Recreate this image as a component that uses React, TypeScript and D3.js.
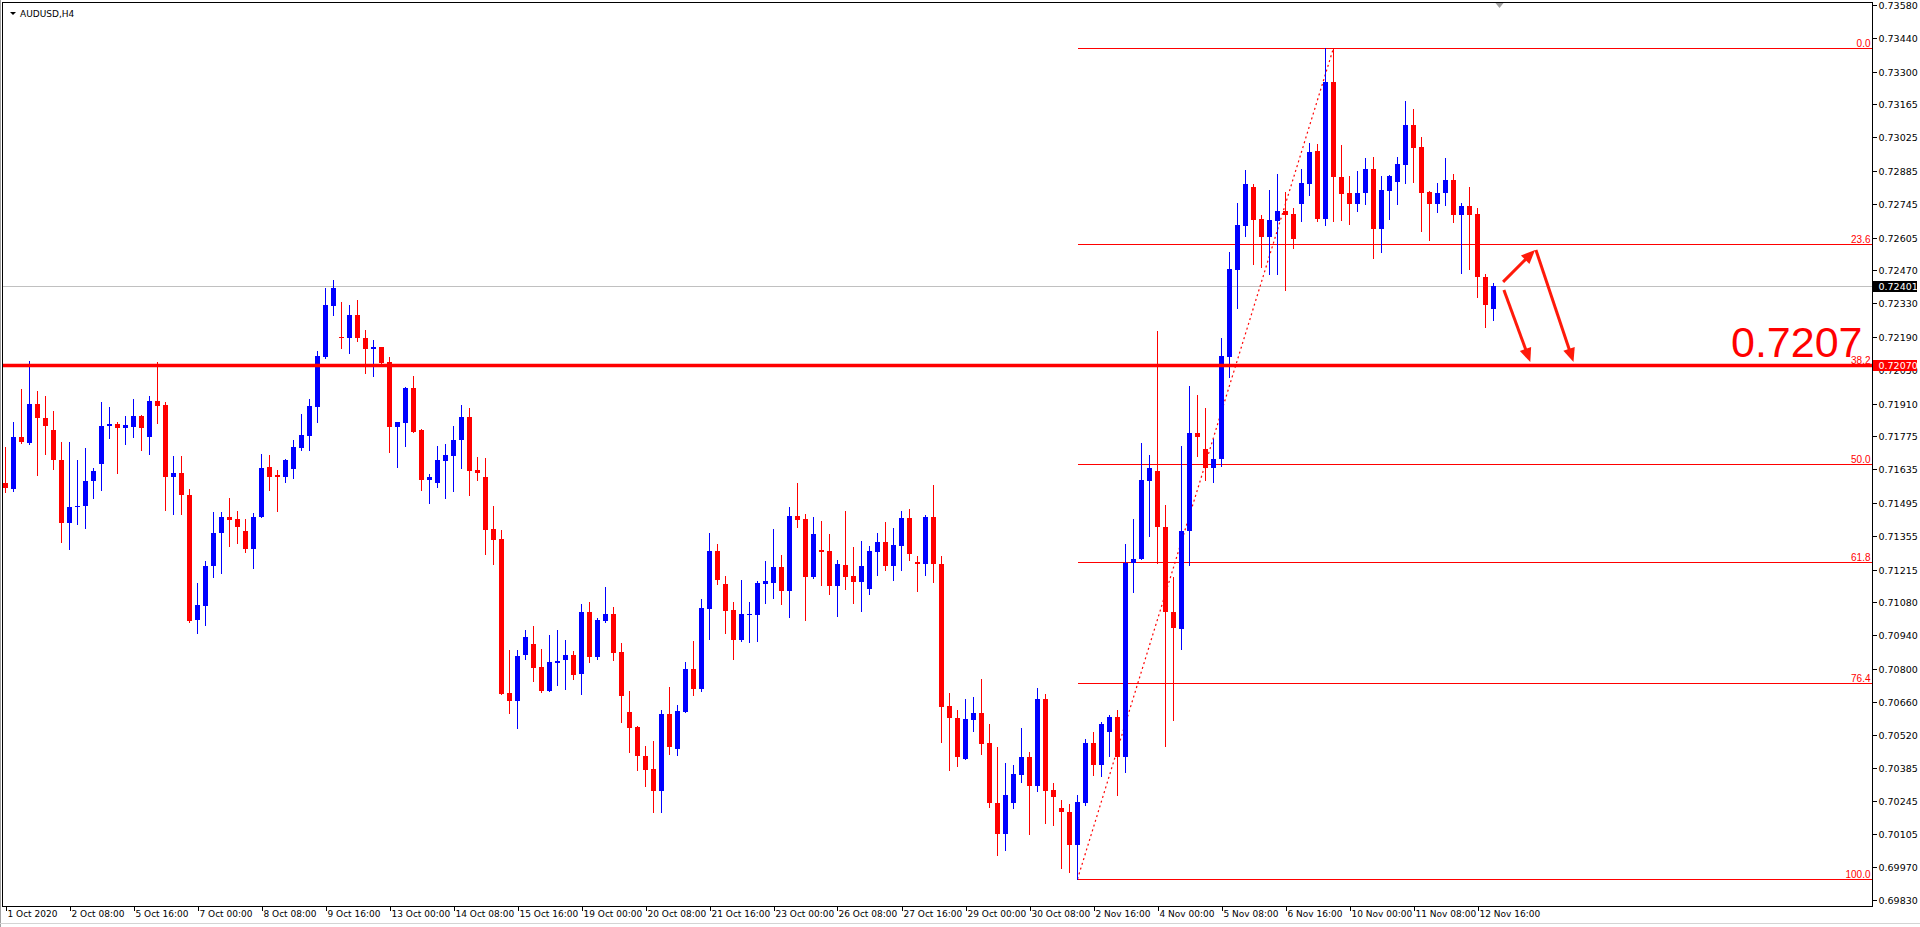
import React from "react";
import * as d3 from "d3";

const W = 1920;
const H = 927;

// OHLC per H4 bar (bar 0 = 1 Oct 2020 00:00)
const opens = [
  0.71577, 0.71554, 0.71771, 0.71746, 0.71909, 0.7185, 0.718, 0.71674, 0.71408, 0.71475,
  0.71479, 0.71584, 0.71659, 0.71818, 0.71825, 0.71806, 0.71814, 0.71859, 0.71772, 0.71922,
  0.71905, 0.71601, 0.7162, 0.71528, 0.71002, 0.71064, 0.71228, 0.71366, 0.71435, 0.71427,
  0.71377, 0.71303, 0.71437, 0.71645, 0.71611, 0.71604, 0.71638, 0.71722, 0.71776, 0.71897,
  0.72105, 0.7232, 0.72189, 0.72186, 0.72281, 0.72185, 0.7214, 0.72147, 0.72084, 0.7181,
  0.7183, 0.71976, 0.71798, 0.71592, 0.71579, 0.71671, 0.71692, 0.71759, 0.71854, 0.71632,
  0.71603, 0.71385, 0.71343, 0.70698, 0.70666, 0.70855, 0.70903, 0.70807, 0.70704, 0.70825,
  0.70834, 0.70857, 0.70779, 0.71037, 0.7085, 0.71001, 0.71029, 0.7087, 0.70619, 0.70556,
  0.70435, 0.7038, 0.70285, 0.7061, 0.70465, 0.7062, 0.70799, 0.70716, 0.71051, 0.71293,
  0.71155, 0.71046, 0.70921, 0.71025, 0.71026, 0.71156, 0.7116, 0.71226, 0.71127, 0.71439,
  0.71427, 0.71185, 0.71297, 0.71293, 0.71148, 0.71234, 0.71188, 0.71164, 0.71135, 0.7129,
  0.71331, 0.71231, 0.71315, 0.71431, 0.71247, 0.71236, 0.71435, 0.71238, 0.70644, 0.70593,
  0.70423, 0.70586, 0.70614, 0.70489, 0.70237, 0.70109, 0.70237, 0.70356, 0.70429, 0.7031,
  0.70672, 0.70291, 0.70215, 0.70201, 0.70062, 0.70237, 0.70487, 0.70397, 0.70536, 0.70597,
  0.70431, 0.71241, 0.71261, 0.71587, 0.71628, 0.71392, 0.71037, 0.70967, 0.71378, 0.71787,
  0.7172, 0.71642, 0.7168, 0.72107, 0.72471, 0.72656, 0.72818, 0.72684, 0.72606, 0.72673,
  0.72717, 0.72705, 0.72748, 0.72832, 0.72968, 0.72685, 0.73258, 0.72861, 0.72793, 0.72748,
  0.72794, 0.72893, 0.72643, 0.72802, 0.7284, 0.72911, 0.73077, 0.72985, 0.72797, 0.72748,
  0.72794, 0.72847, 0.72702, 0.72738, 0.72705, 0.72441, 0.72308,
];
const highs = [
  0.7173, 0.71834, 0.7197, 0.72089, 0.71963, 0.71942, 0.7188, 0.7175, 0.7175, 0.71674,
  0.71725, 0.71641, 0.71917, 0.71896, 0.71834, 0.71859, 0.7193, 0.71863, 0.71942, 0.72085,
  0.71917, 0.71691, 0.71691, 0.71553, 0.71159, 0.71252, 0.71457, 0.71456, 0.71515, 0.7146,
  0.71427, 0.71452, 0.71699, 0.71695, 0.71632, 0.71678, 0.71758, 0.71867, 0.7193, 0.72131,
  0.72394, 0.72428, 0.72336, 0.72323, 0.72344, 0.72219, 0.72177, 0.72147, 0.72105, 0.71833,
  0.71981, 0.72026, 0.71802, 0.71615, 0.71733, 0.71741, 0.71816, 0.71904, 0.71892, 0.71685,
  0.71682, 0.71481, 0.71381, 0.70878, 0.70878, 0.70962, 0.70979, 0.70882, 0.70941, 0.70962,
  0.7092, 0.70874, 0.71071, 0.71079, 0.71012, 0.71142, 0.71058, 0.70908, 0.70707, 0.7056,
  0.70476, 0.70497, 0.70627, 0.70723, 0.70648, 0.70828, 0.70916, 0.71092, 0.71368, 0.71322,
  0.71188, 0.71079, 0.71171, 0.71079, 0.71167, 0.71251, 0.71385, 0.71276, 0.71477, 0.71578,
  0.71448, 0.71435, 0.71418, 0.71364, 0.71255, 0.7146, 0.7131, 0.71335, 0.71314, 0.71368,
  0.71414, 0.71389, 0.7146, 0.71469, 0.71272, 0.71444, 0.71569, 0.71272, 0.70698, 0.70627,
  0.70673, 0.70681, 0.70757, 0.70568, 0.70473, 0.70405, 0.70397, 0.70553, 0.70452, 0.70719,
  0.70693, 0.7032, 0.7025, 0.70233, 0.70269, 0.70507, 0.70534, 0.70576, 0.70604, 0.70626,
  0.71322, 0.71427, 0.71746, 0.71695, 0.72215, 0.71485, 0.71183, 0.71732, 0.71983, 0.71947,
  0.71892, 0.7176, 0.72184, 0.72546, 0.72751, 0.72889, 0.7283, 0.727, 0.72805, 0.72872,
  0.72797, 0.7273, 0.72893, 0.73002, 0.72998, 0.734, 0.734, 0.72994, 0.72864, 0.72885,
  0.72939, 0.72943, 0.72864, 0.72868, 0.72943, 0.73178, 0.73144, 0.73027, 0.72801, 0.72834,
  0.72939, 0.72872, 0.72751, 0.72818, 0.7273, 0.72453, 0.72416,
];
const lows = [
  0.71538, 0.71546, 0.71747, 0.71741, 0.71609, 0.71701, 0.71638, 0.71332, 0.71303, 0.71404,
  0.71387, 0.71513, 0.7155, 0.71768, 0.71621, 0.71739, 0.71771, 0.71714, 0.71697, 0.71827,
  0.71466, 0.71446, 0.71446, 0.70997, 0.70947, 0.70981, 0.71182, 0.71202, 0.71315, 0.71324,
  0.7129, 0.71223, 0.71433, 0.7155, 0.71462, 0.71583, 0.716, 0.71717, 0.71717, 0.71835,
  0.72101, 0.72283, 0.72145, 0.72124, 0.72174, 0.7204, 0.72027, 0.7208, 0.71709, 0.71646,
  0.71734, 0.71793, 0.71548, 0.71495, 0.71562, 0.71516, 0.71546, 0.71642, 0.71529, 0.71592,
  0.71278, 0.71236, 0.70695, 0.70612, 0.70553, 0.70842, 0.7075, 0.707, 0.70704, 0.70733,
  0.70716, 0.70758, 0.70695, 0.70829, 0.70838, 0.70997, 0.70834, 0.70578, 0.70452, 0.70373,
  0.70306, 0.70201, 0.70201, 0.7044, 0.70436, 0.70616, 0.70691, 0.70708, 0.70922, 0.71156,
  0.70947, 0.70842, 0.70917, 0.70913, 0.70917, 0.71076, 0.71097, 0.71072, 0.71014, 0.71395,
  0.71005, 0.71181, 0.71152, 0.71114, 0.71022, 0.71135, 0.71076, 0.71043, 0.71114, 0.71194,
  0.71215, 0.71173, 0.71215, 0.71256, 0.71127, 0.71194, 0.71164, 0.70494, 0.70373, 0.7039,
  0.70423, 0.7054, 0.70444, 0.70222, 0.70017, 0.70038, 0.70215, 0.70324, 0.70109, 0.70288,
  0.70151, 0.70146, 0.69963, 0.69949, 0.69918, 0.7023, 0.70353, 0.70352, 0.70435, 0.70272,
  0.70368, 0.71122, 0.71261, 0.71357, 0.71243, 0.70477, 0.70586, 0.70883, 0.71235, 0.71692,
  0.71592, 0.7158, 0.7165, 0.72023, 0.72312, 0.72614, 0.72497, 0.72484, 0.72455, 0.72451,
  0.72384, 0.72564, 0.72677, 0.72786, 0.72677, 0.7266, 0.72673, 0.72681, 0.72664, 0.72719,
  0.72748, 0.72522, 0.72547, 0.72685, 0.72748, 0.72836, 0.7284, 0.72635, 0.72597, 0.72714,
  0.72744, 0.72672, 0.72459, 0.72476, 0.72358, 0.72229, 0.72262,
];
const closes = [
  0.71556, 0.71771, 0.71751, 0.71909, 0.71848, 0.71818, 0.71672, 0.71408, 0.71478, 0.71482,
  0.71587, 0.71628, 0.71817, 0.71825, 0.71806, 0.71821, 0.71859, 0.71806, 0.71922, 0.71902,
  0.71601, 0.7162, 0.71529, 0.71, 0.71067, 0.71231, 0.71369, 0.71435, 0.71424, 0.71391,
  0.71303, 0.71435, 0.71641, 0.71604, 0.71604, 0.71674, 0.71729, 0.71779, 0.719, 0.7211,
  0.72323, 0.72394, 0.72185, 0.72281, 0.72186, 0.7214, 0.72147, 0.72082, 0.7181, 0.71833,
  0.71976, 0.71793, 0.71592, 0.71603, 0.71674, 0.71695, 0.71758, 0.71854, 0.71629, 0.71621,
  0.71382, 0.7134, 0.70695, 0.70666, 0.70853, 0.70933, 0.70804, 0.70704, 0.70828, 0.70832,
  0.70857, 0.70775, 0.71037, 0.7085, 0.71004, 0.71029, 0.70867, 0.70683, 0.70549, 0.70432,
  0.70377, 0.70285, 0.7061, 0.70473, 0.70623, 0.70799, 0.70716, 0.71054, 0.71293, 0.71173,
  0.71043, 0.70921, 0.71029, 0.71029, 0.71159, 0.71167, 0.71226, 0.71123, 0.71439, 0.71424,
  0.71185, 0.71364, 0.7129, 0.71148, 0.71238, 0.71185, 0.71164, 0.7123, 0.71293, 0.71331,
  0.71231, 0.71318, 0.71431, 0.71282, 0.7124, 0.71435, 0.7124, 0.70641, 0.70591, 0.70431,
  0.70589, 0.70614, 0.70486, 0.70235, 0.70109, 0.70271, 0.70358, 0.70429, 0.7031, 0.70672,
  0.70288, 0.7026, 0.70201, 0.70059, 0.7024, 0.70487, 0.70397, 0.70568, 0.70597, 0.70431,
  0.71241, 0.71261, 0.7159, 0.7164, 0.71391, 0.71039, 0.70972, 0.71377, 0.71787, 0.71771,
  0.71642, 0.7168, 0.7211, 0.72474, 0.72659, 0.7283, 0.72681, 0.72606, 0.7268, 0.72717,
  0.72702, 0.72601, 0.72834, 0.72964, 0.72685, 0.73258, 0.72861, 0.7279, 0.72748, 0.72793,
  0.72893, 0.72643, 0.72805, 0.72864, 0.72914, 0.73077, 0.72982, 0.72794, 0.72748, 0.72793,
  0.72847, 0.72702, 0.72738, 0.72702, 0.72442, 0.72325, 0.72401,
];

// time axis labels, one every 8 bars
const xTickLabels = [
  "1 Oct 2020", "2 Oct 08:00", "5 Oct 16:00", "7 Oct 00:00", "8 Oct 08:00", "9 Oct 16:00",
  "13 Oct 00:00", "14 Oct 08:00", "15 Oct 16:00", "19 Oct 00:00", "20 Oct 08:00", "21 Oct 16:00",
  "23 Oct 00:00", "26 Oct 08:00", "27 Oct 16:00", "29 Oct 00:00", "30 Oct 08:00", "2 Nov 16:00",
  "4 Nov 00:00", "5 Nov 08:00", "6 Nov 16:00", "10 Nov 00:00", "11 Nov 08:00", "12 Nov 16:00",
];
const xTickStep = 8;

const priceTicks = [
  0.7358, 0.7344, 0.733, 0.73165, 0.73025, 0.72885, 0.72745, 0.72605, 0.7247, 0.7233,
  0.7219, 0.7205, 0.7191, 0.71775, 0.71635, 0.71495, 0.71355, 0.71215, 0.7108, 0.7094,
  0.708, 0.7066, 0.7052, 0.70385, 0.70245, 0.70105, 0.6997, 0.6983,
];

const fibLevels = [0, 23.6, 38.2, 50, 61.8, 76.4, 100];
const fibLabels = ["0.0", "23.6", "38.2", "50.0", "61.8", "76.4", "100.0"];
const fibHigh = 0.734;
const fibLow = 0.69918;
const fibStartBar = 134;
const fibEndBar = 166;

const currentPrice = 0.72401;
const keyLevel = 0.7207;
const keyLevelText = "0.7207";

// annotation arrows in (bar, price) space
const arrows = [
  { from: [187.2, 0.7242], to: [191.2, 0.72554] },
  { from: [191.3, 0.72554], to: [196.0, 0.72084] },
  { from: [187.3, 0.72386], to: [190.6, 0.72084] },
];

const BULL = "#0000ff";
const BEAR = "#ff0000";
const FONT = "'DejaVu Sans', Tahoma, sans-serif";

export default function App() {
  const axisX = 1872.5;
  const axisY = 906.5;
  const x = d3.scaleLinear().domain([0, 186]).range([5.5, 1493.5]);
  const y = d3.scaleLinear().domain([0.7358, 0.6983]).range([5, 900.1]);

  const fibPrice = (lvl: number) => fibHigh - (lvl / 100) * (fibHigh - fibLow);
  const line = d3.line<number[]>().x((d) => d[0]).y((d) => d[1]);

  const arrowEls = arrows.map((a, k) => {
    const x1 = x(a.from[0]);
    const y1 = y(a.from[1]);
    const x2 = x(a.to[0]);
    const y2 = y(a.to[1]);
    const dx = x2 - x1;
    const dy = y2 - y1;
    const len = Math.hypot(dx, dy);
    const ux = dx / len;
    const uy = dy / len;
    const hl = 14;
    const hw = 6;
    const bx = x2 - ux * hl;
    const by = y2 - uy * hl;
    const head = [
      [x2, y2],
      [bx - uy * hw, by + ux * hw],
      [bx + uy * hw, by - ux * hw],
    ];
    return (
      <g key={"arr" + k}>
        <path d={line([[x1, y1], [bx + ux * 2, by + uy * 2]]) || ""} stroke="#ff1a0a" strokeWidth={3} fill="none" />
        <path d={(line(head) || "") + "Z"} fill="#ff1a0a" />
      </g>
    );
  });

  return (
    <svg
      width={W}
      height={H}
      style={{ position: "absolute", left: 0, top: 0, display: "block", background: "#ffffff" }}
      fontFamily={FONT}
    >
      <rect x={0} y={0} width={W} height={H} fill="#ffffff" />

      {/* fib lines */}
      {fibLevels.map((lvl, k) => {
        const yy = Math.round(y(fibPrice(lvl))) + 0.5;
        return (
          <g key={"fib" + k}>
            <line x1={x(fibStartBar)} x2={axisX} y1={yy} y2={yy} stroke="#ff0000" strokeWidth={1} shapeRendering="crispEdges" />
            <text x={axisX - 2} y={yy - 1.5} fontSize={10} fill="#ff0000" textAnchor="end" fontFamily="'Liberation Sans', Arial, sans-serif">
              {fibLabels[k]}
            </text>
          </g>
        );
      })}

      {/* current price line */}
      <line x1={3} x2={axisX} y1={Math.round(y(currentPrice)) + 0.5} y2={Math.round(y(currentPrice)) + 0.5} stroke="#c0c0c0" strokeWidth={1} shapeRendering="crispEdges" />

      {/* fib trend line (dotted) */}
      <line
        x1={x(fibStartBar)}
        y1={y(fibLow)}
        x2={x(fibEndBar)}
        y2={y(fibHigh)}
        stroke="#ff0000"
        strokeWidth={1.2}
        strokeDasharray="2,3"
      />

      {/* candles */}
      {opens.map((o, i) => {
        const c = closes[i];
        const col = c >= o ? BULL : BEAR;
        const cx = x(i);
        const top = Math.round(y(Math.max(o, c)));
        const bot = Math.round(y(Math.min(o, c)));
        return (
          <g key={"c" + i} shapeRendering="crispEdges">
            <line x1={cx} x2={cx} y1={Math.round(y(highs[i]))} y2={Math.round(y(lows[i])) + 1} stroke={col} strokeWidth={1} />
            <rect x={cx - 2.5} y={top} width={5} height={Math.max(1, bot - top)} fill={col} />
          </g>
        );
      })}

      {/* key level thick line */}
      <line x1={3} x2={axisX} y1={y(keyLevel)} y2={y(keyLevel)} stroke="#ff0000" strokeWidth={3.5} />

      {/* arrows */}
      {arrowEls}

      {/* big level text */}
      <text
        x={axisX - 10}
        y={y(keyLevel) - 8.5}
        fontSize={43}
        fill="#ff0000"
        textAnchor="end"
        fontFamily="'Liberation Sans', Arial, sans-serif"
      >
        {keyLevelText}
      </text>

      {/* frame */}
      <line x1={2.5} x2={2.5} y1={2} y2={axisY} stroke="#000" strokeWidth={1} shapeRendering="crispEdges" />
      <line x1={2} x2={axisX} y1={2.5} y2={2.5} stroke="#000" strokeWidth={1} shapeRendering="crispEdges" />
      <line x1={axisX} x2={axisX} y1={2} y2={axisY + 0.5} stroke="#000" strokeWidth={1} shapeRendering="crispEdges" />
      <line x1={2} x2={axisX} y1={axisY} y2={axisY} stroke="#000" strokeWidth={1} shapeRendering="crispEdges" />
      <line x1={0.5} x2={0.5} y1={0} y2={H} stroke="#a0a0a0" strokeWidth={1} />
      <line x1={0} x2={W} y1={H - 3.5} y2={H - 3.5} stroke="#d4d4d4" strokeWidth={1} />

      {/* price axis */}
      {priceTicks.map((p, k) => {
        const yy = Math.round(y(p)) + 0.5;
        return (
          <g key={"pt" + k}>
            <line x1={axisX} x2={axisX + 4} y1={yy} y2={yy} stroke="#000" strokeWidth={1} shapeRendering="crispEdges" />
            <text x={axisX + 6} y={yy + 3.4} fontSize={9.5} fill="#000">
              {p.toFixed(5)}
            </text>
          </g>
        );
      })}

      {/* price labels on axis */}
      <rect x={axisX + 0.5} y={Math.round(y(currentPrice)) - 5} width={44} height={11} fill="#000" />
      <text x={axisX + 6} y={Math.round(y(currentPrice)) + 4} fontSize={9.5} fill="#fff">
        {currentPrice.toFixed(5)}
      </text>
      <rect x={axisX + 0.5} y={Math.round(y(keyLevel)) - 5} width={44} height={11} fill="#ff0000" />
      <text x={axisX + 6} y={Math.round(y(keyLevel)) + 4} fontSize={9.5} fill="#fff">
        {keyLevel.toFixed(5)}
      </text>

      {/* time axis */}
      {xTickLabels.map((lab, k) => {
        const xx = Math.round(x(k * xTickStep)) + 0.5;
        return (
          <g key={"xt" + k}>
            <line x1={xx} x2={xx} y1={axisY} y2={axisY + 4} stroke="#000" strokeWidth={1} shapeRendering="crispEdges" />
            <text x={xx + 1} y={917} fontSize={9} fill="#000">
              {lab}
            </text>
          </g>
        );
      })}

      {/* title */}
      <path d="M10,12 L16,12 L13,15 Z" fill="#000" />
      <text x={20} y={17} fontSize={9} fill="#000">
        AUDUSD,H4
      </text>

      {/* chart shift marker */}
      <path d={`M${x(186) + 2},3 L${x(186) + 10},3 L${x(186) + 6},8 Z`} fill="#a0a0a0" />
    </svg>
  );
}
